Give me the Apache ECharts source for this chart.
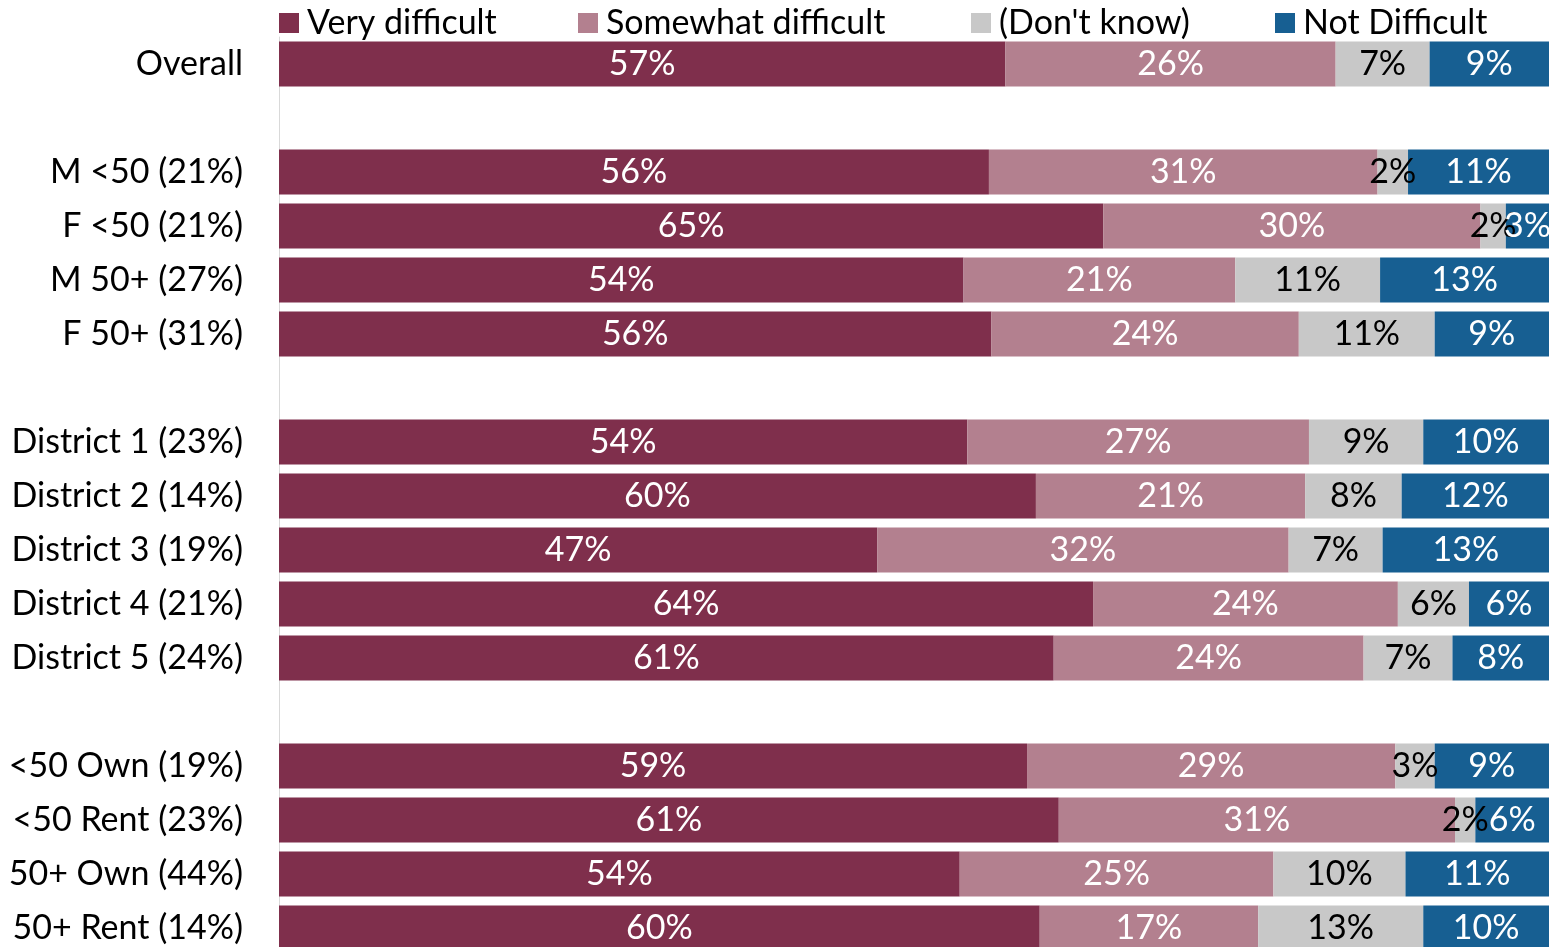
<!DOCTYPE html>
<html>
<head>
<meta charset="utf-8">
<script src="https://cdn.jsdelivr.net/npm/echarts@6/dist/echarts.min.js"></script>
<style>
  html, body { margin: 0; padding: 0; background: #fff; overflow: hidden; }
  #chart { width: 1550px; height: 962px; }
</style>
</head>
<body>
<div id="chart"></div>
<script>
  // rows top to bottom; '' rows are the gaps between groups
  const categories = [
    'Overall', '',
    'M <50 (21%)', 'F <50 (21%)', 'M 50+ (27%)', 'F 50+ (31%)', '',
    'District 1 (23%)', 'District 2 (14%)', 'District 3 (19%)', 'District 4 (21%)', 'District 5 (24%)', '',
    '<50 Own (19%)', '<50 Rent (23%)', '50+ Own (44%)', '50+ Rent (14%)'
  ];
  const veryDifficult = [57.2, null, 55.9, 64.9, 53.9, 56.1, null, 54.2, 59.6, 47.1, 64.1, 61.0, null, 58.9, 61.4, 53.6, 59.9];
  const somewhatDifficult = [26.0, null, 30.6, 29.7, 21.4, 24.2, null, 26.9, 21.2, 32.4, 24.0, 24.4, null, 29.0, 31.2, 24.7, 17.2];
  const dontKnow = [7.4, null, 2.4, 2.0, 11.4, 10.7, null, 9.0, 7.6, 7.4, 5.6, 7.0, null, 3.1, 1.6, 10.4, 13.0];
  const notDifficult = [9.4, null, 11.1, 3.4, 13.3, 9.0, null, 9.9, 11.6, 13.1, 6.3, 7.6, null, 9.0, 5.8, 11.3, 9.9];

  const font = 'Lato';
  const fs = 34;

  function makeSeries(name, data, color, labelColor) {
    return {
      name: name,
      type: 'bar',
      stack: 'total',
      data: data,
      barWidth: 45,
      itemStyle: { color: color },
      label: {
        show: true,
        position: 'inside',
        color: labelColor,
        fontFamily: font,
        fontSize: fs,
        formatter: p => (p.value == null ? '' : Math.round(p.value) + '%')
      },
      emphasis: { disabled: true }
    };
  }

  function legendAt(name, left) {
    return {
      data: [name],
      left: left,
      top: 1,
      itemWidth: 20,
      itemHeight: 20,
      itemGap: 0,
      icon: 'rect',
      textStyle: { fontFamily: font, fontSize: fs, color: '#000', padding: [0, 0, 0, 3] }
    };
  }

  const option = {
    animation: false,
    legend: [
      legendAt('Very difficult', 274),
      legendAt('Somewhat difficult', 573),
      legendAt("(Don't know)", 966),
      legendAt('Not Difficult', 1270)
    ],
    grid: { left: 279, right: 1, top: 37, height: 918, containLabel: false },
    xAxis: { type: 'value', min: 0, max: 100, show: false },
    yAxis: {
      type: 'category',
      data: categories,
      inverse: true,
      axisLine: { show: true, lineStyle: { color: '#d9d9d9', width: 1 } },
      axisTick: { show: false },
      axisLabel: { fontFamily: font, fontSize: fs, color: '#000', margin: 36 }
    },
    series: [
      makeSeries('Very difficult', veryDifficult, '#7f2f4c', '#fff'),
      makeSeries('Somewhat difficult', somewhatDifficult, '#b3808f', '#fff'),
      makeSeries("(Don't know)", dontKnow, '#c8c8c8', '#000'),
      makeSeries('Not Difficult', notDifficult, '#175f92', '#fff')
    ]
  };

  const chart = echarts.init(document.getElementById('chart'));
  chart.setOption(option);
</script>
</body>
</html>
